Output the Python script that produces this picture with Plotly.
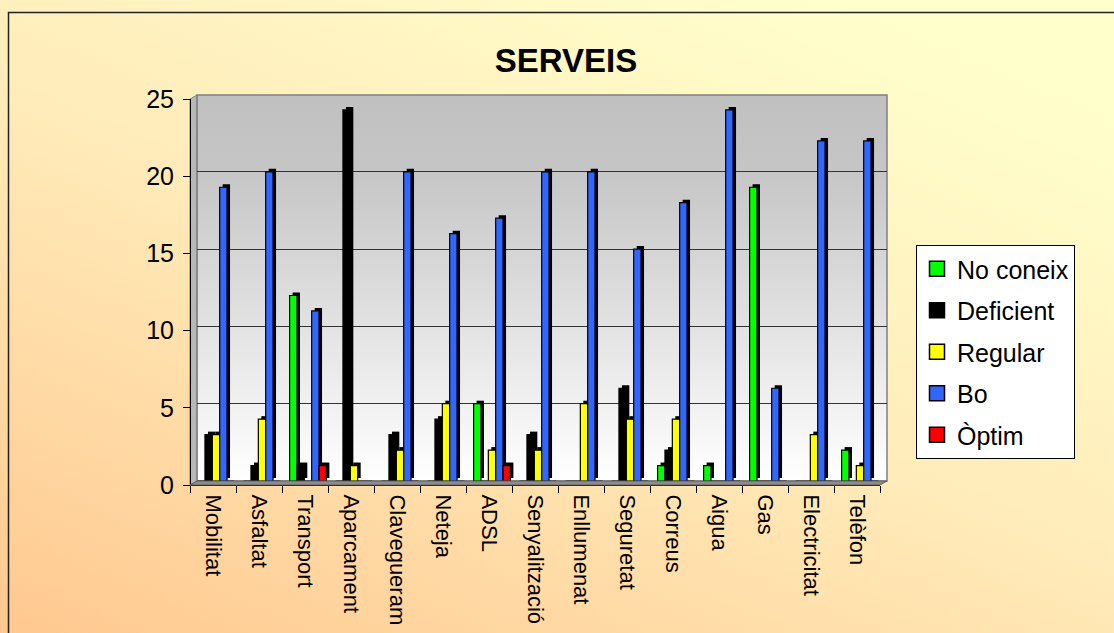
import base64
import plotly.graph_objects as go

# ---------------- data ----------------
categories = ["Mobilitat", "Asfaltat", "Transport", "Aparcament", "Clavegueram",
              "Neteja", "ADSL", "Senyalització", "Enllumenat", "Seguretat",
              "Correus", "Aigua", "Gas", "Electricitat", "Telèfon"]
no_coneix  = [0, 0, 12, 0, 0, 0, 5, 0, 0, 0, 1, 1, 19, 0, 2]
deficient  = [3, 1, 1, 24, 3, 4, 0, 3, 0, 6, 2, 0, 0, 0, 0]
regular    = [3, 4, 0, 1, 2, 5, 2, 2, 5, 4, 4, 0, 0, 3, 1]
bo         = [19, 20, 11, 0, 20, 16, 17, 20, 20, 15, 18, 24, 6, 22, 22]
optim      = [0, 0, 1, 0, 0, 0, 1, 0, 0, 0, 0, 0, 0, 0, 0]
series_names = ["No coneix", "Deficient", "Regular", "Bo", "Òptim"]
y_ticks = [0, 5, 10, 15, 20, 25]

# ---------------- layout helpers ----------------
W, H = 1114, 633
def px(x):
    return x / W
def py(y):
    return 1 - y / H

FONT = "Liberation Sans, Arial, sans-serif"

def svg_uri(svg):
    return "data:image/svg+xml;base64," + base64.b64encode(svg.encode()).decode()

bg_svg = f"""<svg xmlns='http://www.w3.org/2000/svg' width='{W}' height='{H}' preserveAspectRatio='none'>
<defs><linearGradient id='g' x1='0' y1='1' x2='0.75' y2='0'>
<stop offset='0' stop-color='#FFC890'/><stop offset='0.55' stop-color='#FFECBA'/><stop offset='1' stop-color='#FFFFCC'/>
</linearGradient></defs><rect width='{W}' height='{H}' fill='url(#g)'/></svg>"""

wall_svg = """<svg xmlns='http://www.w3.org/2000/svg' width='100' height='100' preserveAspectRatio='none'>
<defs><linearGradient id='w' x1='0' y1='0' x2='0' y2='1'>
<stop offset='0' stop-color='#C0C0C0'/><stop offset='0.2' stop-color='#C6C6C6'/><stop offset='1' stop-color='#FFFFFF'/>
</linearGradient></defs><rect width='100' height='100' fill='url(#w)'/></svg>"""

colors = ["#00FF00", "#000000", "#FFFF00", "#3366FF", "#FF0000"]
values = [no_coneix, deficient, regular, bo, optim]

# back wall (plot area) geometry
bx0, bx1, by0, by1 = 197, 887, 481, 94.5
# front axis geometry
fx0, fx1, fy0, fy1 = 190, 880, 485, 99

cat_px = (bx1 - bx0) / len(categories)        # pixels per category
unit_px = (by0 - by1) / 25.0                   # pixels per value unit
slot = 0.16                                    # bar width (category units)
start = -0.4
depth_x = 3.0 / cat_px                         # 3D depth offsets
depth_y = 3.0 / unit_px

fig = go.Figure()
# dark 3D "depth" behind each bar
for k, vals in enumerate(values):
    fig.add_trace(go.Bar(
        x=categories, y=vals, base=depth_y, width=slot, offset=start + k * slot + depth_x,
        marker=dict(color="#000000", line=dict(width=0)), showlegend=False,
        hoverinfo="skip", xaxis="x", yaxis="y"))
# front faces
for k, (name, vals, col) in enumerate(zip(series_names, values, colors)):
    fig.add_trace(go.Bar(
        x=categories, y=vals, name=name, showlegend=False,
        width=slot, offset=start + k * slot,
        marker=dict(color=col, line=dict(color="#000000", width=1.2)),
        hoverinfo="skip", xaxis="x", yaxis="y"))
# legend entries (square swatches)
for name, col in zip(series_names, colors):
    fig.add_trace(go.Scatter(
        x=[None], y=[None], mode="markers", name=name, legendgroup=name,
        marker=dict(symbol="square", size=15, color=col, line=dict(color="#000000", width=1.5)),
        hoverinfo="skip", xaxis="x", yaxis="y"))

# invisible trace to display the front axes
fig.add_trace(go.Scatter(x=categories, y=[0] * len(categories), mode="markers",
                         marker=dict(opacity=0), showlegend=False,
                         hoverinfo="skip", xaxis="x2", yaxis="y2"))

shapes = [
    dict(type="path", xref="paper", yref="paper",
         path=f"M {px(fx0)},{py(fy0)} L {px(fx0)},{py(fy1)} L {px(bx0)},{py(95)} L {px(bx0)},{py(by0)} Z",
         fillcolor="#B8B8B8", line=dict(color="#808080", width=1), layer="below"),
    dict(type="path", xref="paper", yref="paper",
         path=f"M {px(fx0)},{py(fy0)} L {px(bx0)},{py(by0)} L {px(bx1)},{py(by0)} L {px(fx1)},{py(fy0)} Z",
         fillcolor="#8C8C8C", line=dict(color="#606060", width=1), layer="above"),
    dict(type="rect", xref="paper", yref="paper",
         x0=px(bx0), x1=px(bx1), y0=py(by0), y1=py(95),
         fillcolor="rgba(0,0,0,0)", line=dict(color="#808080", width=1.5), layer="below"),
    dict(type="rect", xref="paper", yref="paper",
         x0=px(8.5), x1=px(1130), y0=py(650), y1=py(12.5),
         fillcolor="rgba(0,0,0,0)", line=dict(color="#222222", width=1.5), layer="above"),
]

images = [
    dict(source=svg_uri(bg_svg), xref="paper", yref="paper", x=0, y=1,
         sizex=1, sizey=1, xanchor="left", yanchor="top", sizing="stretch", layer="below"),
    dict(source=svg_uri(wall_svg), xref="paper", yref="paper", x=px(bx0), y=py(95),
         sizex=px(bx1) - px(bx0), sizey=py(95) - py(by0), xanchor="left", yanchor="top",
         sizing="stretch", layer="below"),
]

fig.update_layout(
    width=W, height=H, autosize=False,
    margin=dict(l=0, r=0, t=0, b=0, pad=0, autoexpand=False),
    paper_bgcolor="rgba(0,0,0,0)", plot_bgcolor="rgba(0,0,0,0)",
    font=dict(family=FONT, color="#000000"),
    title=dict(text="<b>SERVEIS</b>", font=dict(family=FONT, size=33, color="#000000"),
               x=px(566), y=py(60), xanchor="center", yanchor="middle",
               xref="container", yref="container", automargin=False),
    barmode="overlay",
    showlegend=True,
    legend=dict(x=px(916), y=py(245), xanchor="left", yanchor="top",
                bgcolor="#FFFFFF", bordercolor="#000000", borderwidth=1,
                font=dict(family=FONT, size=25), tracegroupgap=6,
                traceorder="grouped", itemwidth=30, itemsizing="trace"),
    xaxis=dict(domain=[px(bx0), px(bx1)], range=[-0.413, 14.587], type="category",
               showticklabels=False, ticks="", showgrid=False, showline=False,
               zeroline=False, anchor="y", fixedrange=True, automargin=False),
    yaxis=dict(domain=[py(by0), py(by1)], range=[0, 25], tickvals=y_ticks,
               showticklabels=False, ticks="", showgrid=True, gridcolor="#333333",
               gridwidth=1, showline=False, zeroline=False, anchor="x", fixedrange=True,
               automargin=False),
    xaxis2=dict(domain=[px(fx0), px(fx1)], range=[-0.5, 14.5], type="category",
                anchor="free", position=py(fy0), showline=True, linecolor="#000000",
                linewidth=1, ticks="outside", tickson="boundaries", ticklen=7,
                tickcolor="#000000", tickangle=90, ticklabelstandoff=4,
                tickfont=dict(family=FONT, size=22, color="#000000"),
                showgrid=False, zeroline=False, fixedrange=True, automargin=False),
    yaxis2=dict(domain=[py(fy0), py(fy1)], range=[0, 25], tickvals=y_ticks,
                anchor="free", position=px(fx0), showline=True, linecolor="#000000",
                linewidth=1, ticks="outside", ticklen=7, tickcolor="#000000",
                tickfont=dict(family=FONT, size=25, color="#000000"),
                ticklabelstandoff=4,
                showgrid=False, zeroline=False, fixedrange=True, automargin=False),
    shapes=shapes, images=images,
)

fig.write_html("out.html", config={"displayModeBar": False},
               post_script="document.body.style.margin='0';document.body.style.overflow='hidden';")
